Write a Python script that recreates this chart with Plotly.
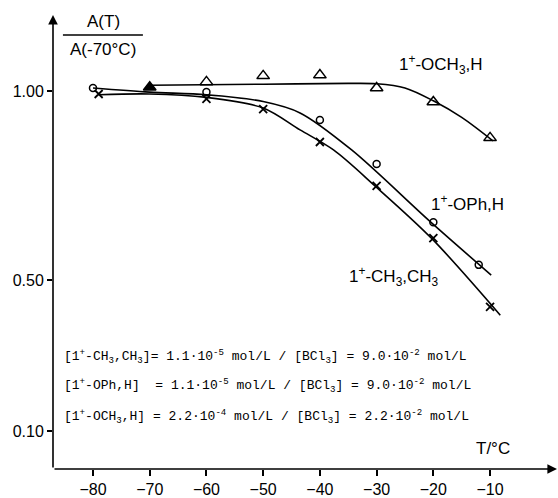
import plotly.graph_objects as go

# ---- measured points ----
T_och3 = [-70, -60, -50, -40, -30, -20, -10]
A_och3 = [1.01, 1.024, 1.04, 1.042, 1.008, 0.971, 0.876]

T_oph = [-80, -60, -40, -30, -20, -12]
A_oph = [1.008, 0.997, 0.923, 0.807, 0.653, 0.54]

T_ch3 = [-79, -60, -50, -40, -30, -20, -10]
A_ch3 = [0.992, 0.979, 0.952, 0.865, 0.749, 0.611, 0.429]

# ---- hand-drawn fit curves (knots) ----
fit_och3_T = [-70, -50, -35, -30, -25, -20, -15, -9.5]
fit_och3_A = [1.015, 1.018, 1.02, 1.019, 1.008, 0.974, 0.93, 0.868]

fit_oph_T = [-80, -70, -60, -50, -43.5, -34.4, -20.6, -9.8]
fit_oph_A = [1.008, 0.997, 0.99, 0.972, 0.942, 0.844, 0.655, 0.513]

fit_ch3_T = [-79, -70, -60, -50, -43.5, -37.6, -30.3, -20.3, -8.2]
fit_ch3_A = [0.99, 0.992, 0.983, 0.955, 0.897, 0.844, 0.749, 0.61, 0.407]

x_ticks = [-80, -70, -60, -50, -40, -30, -20, -10]
x_ticktext = ["\u221280", "\u221270", "\u221260", "\u221250", "\u221240", "\u221230", "\u221220", "\u221210"]
y_ticks = [0.10, 0.50, 1.00]
y_ticktext = ["0.10", "0.50", "1.00"]

conc_lines = [
    "[1<sup>+</sup>-CH<sub>3</sub>,CH<sub>3</sub>]=\u00a01.1\u00b710<sup>-5</sup>\u00a0mol/L\u00a0/\u00a0[BCl<sub>3</sub>]\u00a0=\u00a09.0\u00b710<sup>-2</sup>\u00a0mol/L",
    "[1<sup>+</sup>-OPh,H]\u00a0\u00a0=\u00a01.1\u00b710<sup>-5</sup>\u00a0mol/L\u00a0/\u00a0[BCl<sub>3</sub>]\u00a0=\u00a09.0\u00b710<sup>-2</sup>\u00a0mol/L",
    "[1<sup>+</sup>-OCH<sub>3</sub>,H]\u00a0=\u00a02.2\u00b710<sup>-4</sup>\u00a0mol/L\u00a0/\u00a0[BCl<sub>3</sub>]\u00a0=\u00a02.2\u00b710<sup>-2</sup>\u00a0mol/L",
]
conc_y = [0.297, 0.221, 0.140]

XMIN, XMAX = -87.05, 1.8
YMIN, YMAX = 0.0, 1.201

FONT = "Liberation Sans, Arial, sans-serif"

fig = go.Figure()

for tx, ay in [(fit_och3_T, fit_och3_A), (fit_oph_T, fit_oph_A), (fit_ch3_T, fit_ch3_A)]:
    fig.add_trace(go.Scatter(x=tx, y=ay, mode="lines", line=dict(color="black", width=1.6, shape="spline", smoothing=0.9),
                             hoverinfo="skip", showlegend=False))

fig.add_trace(go.Scatter(
    x=T_och3, y=A_och3, mode="markers", showlegend=False,
    marker=dict(symbol=["triangle-up"] + ["triangle-up-open"] * (len(T_och3) - 1),
                size=11, color="black", line=dict(color="black", width=1.5))))
fig.add_trace(go.Scatter(
    x=T_oph, y=A_oph, mode="markers", showlegend=False,
    marker=dict(symbol="circle-open", size=7, color="black", line=dict(color="black", width=1.5))))
fig.add_trace(go.Scatter(
    x=T_ch3, y=A_ch3, mode="markers", showlegend=False,
    marker=dict(symbol="x-thin-open", size=8, color="black", line=dict(color="black", width=1.8))))

annotations = []
# axis arrows
annotations.append(dict(x=XMAX, y=0, ax=XMIN, ay=0, xref="x", yref="y", axref="x", ayref="y",
                        text="", showarrow=True, arrowhead=2, arrowsize=1.2, arrowwidth=1.6, arrowcolor="black", standoff=0))
annotations.append(dict(x=XMIN, y=YMAX, ax=XMIN, ay=0, xref="x", yref="y", axref="x", ayref="y",
                        text="", showarrow=True, arrowhead=2, arrowsize=1.2, arrowwidth=1.6, arrowcolor="black", standoff=0))

# y-axis title as fraction
annotations.append(dict(x=-78.2, y=1.183, xref="x", yref="y", text="A(T)", showarrow=False,
                        font=dict(family=FONT, size=17, color="black")))
annotations.append(dict(x=-78.2, y=1.11, xref="x", yref="y", text="A(-70\u00b0C)", showarrow=False,
                        font=dict(family=FONT, size=17, color="black")))
annotations.append(dict(x=-9.5, y=0.055, xref="x", yref="y", text="T/\u00b0C", showarrow=False,
                        font=dict(family=FONT, size=17, color="black")))

# curve labels
annotations.append(dict(x=-18.6, y=1.07, xref="x", yref="y", text="1<sup>+</sup>-OCH<sub>3</sub>,H", showarrow=False,
                        font=dict(family=FONT, size=17, color="black")))
annotations.append(dict(x=-14.0, y=0.704, xref="x", yref="y", text="1<sup>+</sup>-OPh,H", showarrow=False,
                        font=dict(family=FONT, size=17, color="black")))
annotations.append(dict(x=-27.0, y=0.510, xref="x", yref="y", text="1<sup>+</sup>-CH<sub>3</sub>,CH<sub>3</sub>", showarrow=False,
                        font=dict(family=FONT, size=17, color="black")))

for txt, yy in zip(conc_lines, conc_y):
    annotations.append(dict(x=-85.5, y=yy, xref="x", yref="y", xanchor="left", text=txt, showarrow=False,
                            font=dict(family="Liberation Mono, Courier New, monospace", size=13, color="black")))

fig.update_layout(
    width=558, height=498,
    margin=dict(l=53, r=1, t=15, b=29, pad=0),
    paper_bgcolor="white", plot_bgcolor="white",
    annotations=annotations,
    shapes=[dict(type="line", xref="x", yref="y", x0=-85.3, x1=-71.2, y0=1.148, y1=1.148,
                 line=dict(color="black", width=1.4))],
    xaxis=dict(range=[XMIN, XMAX], showgrid=False, zeroline=False, showline=False, automargin=False,
               tickmode="array", tickvals=x_ticks, ticktext=x_ticktext,
               ticks="outside", ticklen=6, tickwidth=1.5, tickcolor="black",
               tickfont=dict(family=FONT, size=16, color="black")),
    yaxis=dict(range=[YMIN, YMAX], showgrid=False, zeroline=False, showline=False, automargin=False,
               tickmode="array", tickvals=y_ticks, ticktext=y_ticktext,
               ticks="outside", ticklen=5, tickwidth=1.5, tickcolor="black",
               tickfont=dict(family=FONT, size=16, color="black")),
)

fig.write_html("out.html", config={"displayModeBar": False},
               post_script="document.body.style.margin='0';document.body.style.padding='0';")
